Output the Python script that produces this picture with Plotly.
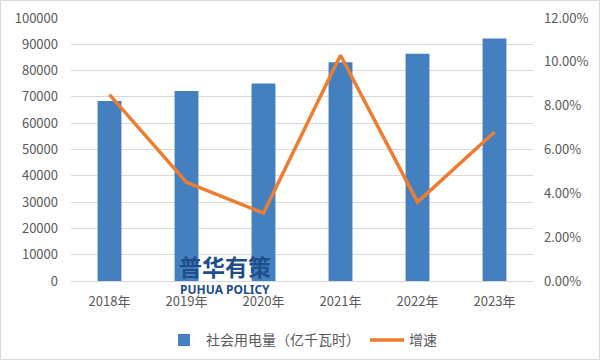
import plotly.graph_objects as go

years = ["2018年", "2019年", "2020年", "2021年", "2022年", "2023年"]
consumption = [68449, 72255, 75110, 83128, 86372, 92241]
growth = [0.085, 0.045, 0.031, 0.103, 0.036, 0.068]
left_ticks = list(range(0, 100001, 10000))
right_ticks = [0, 0.02, 0.04, 0.06, 0.08, 0.10, 0.12]
bar_name = "社会用电量（亿千瓦时）"
line_name = "增速"

FONT = "Noto Sans CJK SC, Noto Sans, sans-serif"
W, H = 601, 361
L, R, T, B = 71, 68, 18, 80
pw, ph = W - L - R, H - T - B

fig = go.Figure()
fig.add_trace(go.Bar(
    x=years, y=consumption, name=bar_name, width=0.31,
    marker=dict(color="#4480BF", line=dict(width=0)),
))
fig.add_trace(go.Scatter(
    x=years, y=growth, name=line_name, yaxis="y2", mode="lines",
    line=dict(color="#ED7D31", width=3.5),
))

fig.update_layout(
    width=W, height=H,
    margin=dict(l=L, r=R, t=T, b=B, autoexpand=False),
    paper_bgcolor="white", plot_bgcolor="white",
    font=dict(family=FONT, size=13, color="#595959"),
    showlegend=True,
    legend=dict(orientation="h", x=0.5, xanchor="center", y=-0.165, yanchor="top",
                font=dict(size=14, color="#595959"), traceorder="normal",
                itemwidth=34, tracegroupgap=20),
    xaxis=dict(showgrid=False, showline=True, linecolor="#D9D9D9", linewidth=1,
               ticks="", tickfont=dict(size=13, color="#595959"), ticklabelstandoff=8),
    yaxis=dict(range=[0, 100000], tickvals=left_ticks, tickformat="d", showgrid=True,
               gridcolor="#D9D9D9", gridwidth=1, zeroline=False, ticks="",
               tickfont=dict(size=13, color="#595959"), ticklabelstandoff=12),
    yaxis2=dict(range=[0, 0.12], tickvals=right_ticks, tickformat=".2%",
                overlaying="y", side="right", showgrid=False, zeroline=False,
                ticks="", tickfont=dict(size=13, color="#595959"), ticklabelstandoff=10),
    shapes=[dict(type="rect", xref="paper", yref="paper",
                 x0=-(L - 0.5) / pw, x1=1 + (R - 1.5) / pw,
                 y0=-(B - 1.5) / ph, y1=1 + (T - 0.5) / ph,
                 line=dict(color="#D9D9D9", width=1), fillcolor="rgba(0,0,0,0)", layer="below")],
    annotations=[
        dict(text="<b>普华有策</b>", xref="x", yref="paper", x=1.5, y=(281 - 266) / ph,
             showarrow=False, font=dict(family=FONT, size=23, color="#1F4E8C"),
             xanchor="center", yanchor="middle"),
        dict(text="<b>PUHUA POLICY</b>", xref="x", yref="paper", x=1.5, y=(281 - 289) / ph,
             showarrow=False, font=dict(family="Noto Sans, sans-serif", size=12, color="#1F4E8C"),
             xanchor="center", yanchor="middle"),
    ],
)

fig.write_html("out.html", config={"displayModeBar": False},
               post_script="document.body.style.margin='0';")
